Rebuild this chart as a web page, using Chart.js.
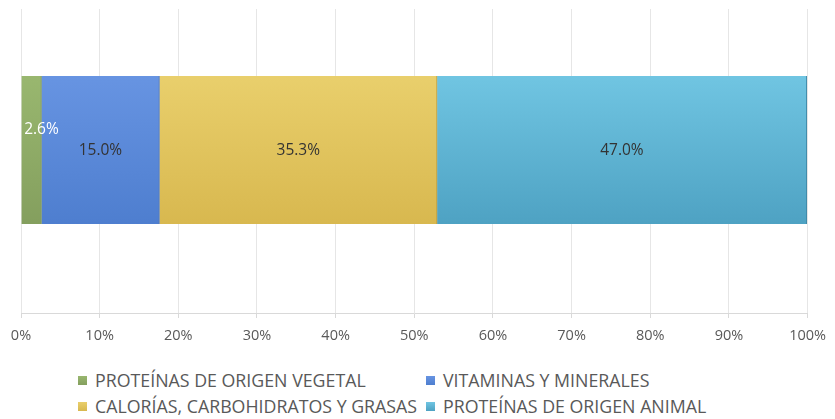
<!DOCTYPE html>
<html>
<head>
<meta charset="utf-8">
<script src="https://cdn.jsdelivr.net/npm/chart.js@4/dist/chart.umd.min.js"></script>
<style>
  html, body { margin: 0; padding: 0; background: #fff; }
  #wrap { position: relative; width: 835px; height: 419px; overflow: hidden; background: #fff; }
  #cbox { position: absolute; left: 0; top: -13px; width: 835px; height: 366px; }
  #mask { position: absolute; left: 0; top: 0; width: 835px; height: 9px; background: #fff; }
  .leg { position: absolute; font-family: "Open Sans", sans-serif; font-size: 17.8px; color: #595959; white-space: nowrap; line-height: 20px; }
  .leg i { position: absolute; left: -17px; top: 6px; width: 9px; height: 9px; }
</style>
</head>
<body>
<div id="wrap">
  <div id="cbox"><canvas id="c"></canvas></div>
  <div id="mask"></div>
  <div id="legend"></div>
</div>
<script>
const categories = [""];
const seriesNames = [
  "PROTEÍNAS DE ORIGEN VEGETAL",
  "VITAMINAS Y MINERALES",
  "CALORÍAS, CARBOHIDRATOS Y GRASAS",
  "PROTEÍNAS DE ORIGEN ANIMAL"
];
const seriesValues = [2.6, 15.0, 35.3, 47.0];
const tickLabels = ["0%","10%","20%","30%","40%","50%","60%","70%","80%","90%","100%"];

const colorsTop = ["#99b76f", "#6794e2", "#e9cf6c", "#70c5e2"];
const colorsBot = ["#849f5e", "#4e7ecf", "#d8b84f", "#4ea2c3"];
const edgeColors = ["#6f8a4a", "#3f69b0", "#b89a3e", "#3e87a6"];
const BAR_H = 148;

function grad(ctx, i) {
  const chart = ctx.chart;
  const ca = chart.chartArea;
  if (!ca || !isFinite(ca.top) || !isFinite(ca.bottom)) return colorsTop[i];
  const cy = (ca.top + ca.bottom) / 2;
  const g = chart.ctx.createLinearGradient(0, cy - BAR_H / 2, 0, cy + BAR_H / 2);
  g.addColorStop(0, colorsTop[i]);
  g.addColorStop(1, colorsBot[i]);
  return g;
}

const datasets = seriesNames.map((name, i) => ({
  label: name,
  data: [seriesValues[i]],
  backgroundColor: (ctx) => grad(ctx, i),
  borderColor: edgeColors[i],
  borderWidth: { top: 0, bottom: 0, left: 0, right: 1 },
  borderSkipped: false,
  barThickness: BAR_H
}));

const labelPlugin = {
  id: "segLabels",
  afterDatasetsDraw(chart) {
    const ctx = chart.ctx;
    ctx.save();
    ctx.font = "15.5px 'Open Sans', sans-serif";
    ctx.textAlign = "center";
    ctx.textBaseline = "middle";
    chart.data.datasets.forEach((ds, i) => {
      const el = chart.getDatasetMeta(i).data[0];
      if (!el) return;
      const v = ds.data[0];
      const txt = v.toFixed(1) + "%";
      const left = Math.min(el.x, el.base), right = Math.max(el.x, el.base);
      const w = ctx.measureText(txt).width;
      if (right - left < w + 4) {
        ctx.fillStyle = "#ffffff";
        ctx.fillText(txt, right, el.y - 20);
      } else {
        ctx.fillStyle = "#333333";
        ctx.fillText(txt, (left + right) / 2, el.y + 1);
      }
    });
    ctx.restore();
  }
};

// HTML legend (two columns, two rows)
const legendPos = [
  { left: 95, top: 370 },
  { left: 443, top: 370 },
  { left: 95, top: 396 },
  { left: 443, top: 396 }
];
const legendEl = document.getElementById("legend");
seriesNames.forEach((name, i) => {
  const d = document.createElement("div");
  d.className = "leg";
  d.style.left = legendPos[i].left + "px";
  d.style.top = legendPos[i].top + "px";
  const b = document.createElement("i");
  b.style.background = "linear-gradient(" + colorsTop[i] + "," + colorsBot[i] + ")";
  d.appendChild(b);
  d.appendChild(document.createTextNode(name));
  legendEl.appendChild(d);
});

new Chart(document.getElementById("c"), {
  type: "bar",
  data: { labels: categories, datasets },
  plugins: [labelPlugin],
  options: {
    indexAxis: "y",
    responsive: true,
    maintainAspectRatio: false,
    animation: false,
    layout: { padding: { left: 21, right: 27, top: 0, bottom: 0 } },
    plugins: { legend: { display: false }, tooltip: { enabled: false } },
    scales: {
      x: {
        stacked: true,
        min: 0,
        max: 100,
        afterFit(s) { s.height = 40; },
        grid: { color: "#e6e6e6", lineWidth: 1, drawTicks: true, tickLength: 5, tickColor: "#d9d9d9" },
        border: { color: "#d9d9d9", width: 1 },
        ticks: {
          stepSize: 10,
          padding: 9,
          color: "#595959",
          font: { family: "'Open Sans', sans-serif", size: 14.5 },
          callback: (v, idx) => tickLabels[idx]
        }
      },
      y: {
        stacked: true,
        display: false,
        grid: { display: false }
      }
    }
  }
});
</script>
</body>
</html>
